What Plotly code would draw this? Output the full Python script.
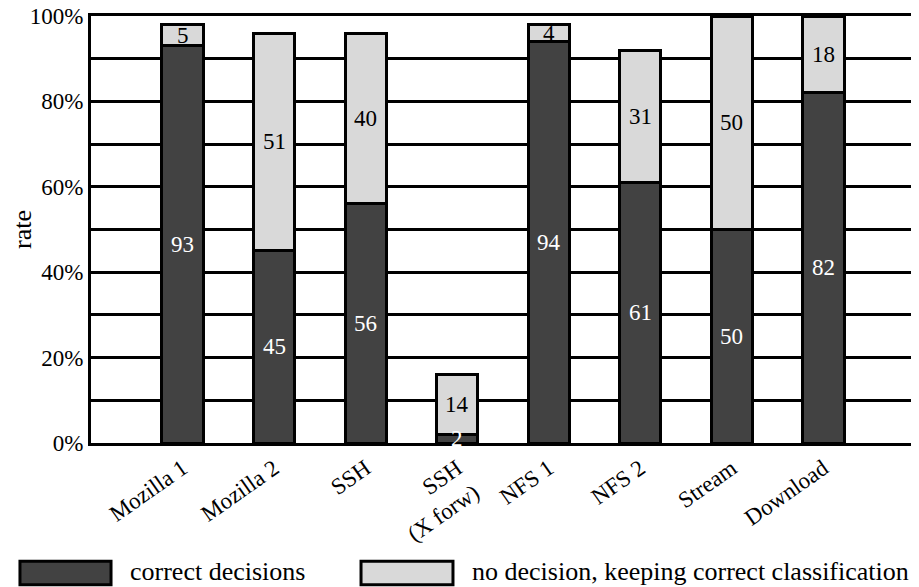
import plotly.graph_objects as go

categories = ["Mozilla 1", "Mozilla 2", "SSH", "SSH<br>(X forw)", "NFS 1", "NFS 2", "Stream", "Download"]
correct = [93, 45, 56, 2, 94, 61, 50, 82]
no_decision = [5, 51, 40, 14, 4, 31, 50, 18]
series_names = ["correct decisions", "no decision, keeping correct classification"]
y_tick_vals = [0, 10, 20, 30, 40, 50, 60, 70, 80, 90, 100]
y_tick_text = ["0%", "", "20%", "", "40%", "", "60%", "", "80%", "", "100%"]

DARK = "#424242"
LIGHT = "#d9d9d9"
FONT = "'Liberation Serif', 'Times New Roman', Times, serif"

xpos = list(range(1, len(categories) + 1))

fig = go.Figure()
fig.add_trace(go.Bar(x=xpos, y=correct, name=series_names[0],
                     marker=dict(color=DARK, line=dict(color="black", width=3)), width=0.45))
fig.add_trace(go.Bar(x=xpos, y=no_decision, name=series_names[1],
                     marker=dict(color=LIGHT, line=dict(color="black", width=3)), width=0.45))

annotations = []
for x, c, n in zip(xpos, correct, no_decision):
    annotations.append(dict(x=x, y=c / 2, text=str(c), showarrow=False, xref="x", yref="y",
                            font=dict(family=FONT, size=23, color="white")))
    annotations.append(dict(x=x, y=c + n / 2, text=str(n), showarrow=False, xref="x", yref="y",
                            font=dict(family=FONT, size=23, color="black")))

# legend drawn manually
shapes = [
    dict(type="rect", xref="paper", yref="paper", x0=-0.0862, x1=0.0243, y0=-0.332, y1=-0.277,
         fillcolor=DARK, line=dict(color="black", width=3)),
    dict(type="rect", xref="paper", yref="paper", x0=0.3277, x1=0.4393, y0=-0.332, y1=-0.277,
         fillcolor=LIGHT, line=dict(color="black", width=3)),
]
annotations.append(dict(x=0.045, y=-0.302, xref="paper", yref="paper", text=series_names[0], showarrow=False,
                        xanchor="left", yanchor="middle", font=dict(family=FONT, size=26, color="black")))
annotations.append(dict(x=0.46, y=-0.302, xref="paper", yref="paper", text=series_names[1], showarrow=False,
                        xanchor="left", yanchor="middle", font=dict(family=FONT, size=26, color="black")))

fig.update_layout(
    barmode="stack",
    width=911, height=579,
    margin=dict(l=83, r=4, t=8, b=144),
    plot_bgcolor="white", paper_bgcolor="white",
    showlegend=False,
    font=dict(family=FONT, size=23, color="black"),
    annotations=annotations,
    shapes=shapes,
)
fig.update_xaxes(range=[0, 9], tickvals=xpos, ticktext=categories, tickangle=-35,
                 showgrid=False, showline=True, linecolor="black", linewidth=3, mirror=True,
                 ticks="", tickfont=dict(family=FONT, size=23), automargin=False,
                 ticklabeloverflow="allow")
fig.update_yaxes(range=[0, 100], tickvals=y_tick_vals, ticktext=y_tick_text,
                 showgrid=True, gridcolor="black", gridwidth=3, zeroline=False,
                 showline=True, linecolor="black", linewidth=3, mirror=True, ticks="",
                 title=dict(text="rate", font=dict(family=FONT, size=26), standoff=12),
                 tickfont=dict(family=FONT, size=23), automargin=False,
                 ticklabeloverflow="allow")

fig.write_html("out.html")
